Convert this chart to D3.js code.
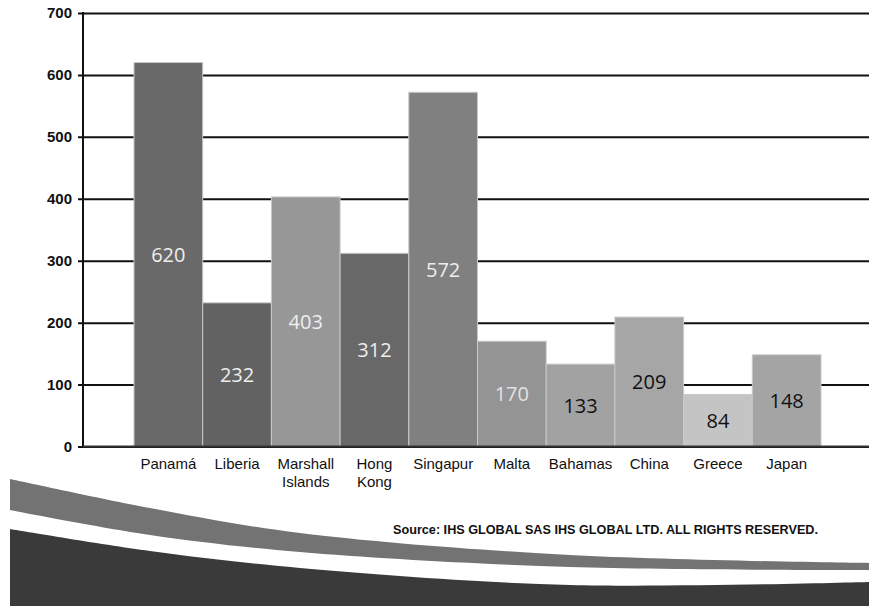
<!DOCTYPE html>
<html>
<head>
<meta charset="utf-8">
<script src="https://cdn.jsdelivr.net/npm/d3@7/dist/d3.min.js"></script>
<style>
  html, body { margin: 0; padding: 0; background: #fff; }
  svg { display: block; }
</style>
</head>
<body>
<svg id="chart" width="869" height="606"></svg>
<script>
// Registered fleet by flag (figures as labelled)
const flags = [["Panamá"], ["Liberia"], ["Marshall", "Islands"], ["Hong", "Kong"], ["Singapur"], ["Malta"], ["Bahamas"], ["China"], ["Greece"], ["Japan"]];
const fleet = [620, 232, 403, 312, 572, 170, 133, 209, 84, 148];
const barFills = ["#696969", "#626262", "#979797", "#686868", "#808080", "#949494", "#a2a2a2", "#a6a6a6", "#c4c4c4", "#a4a4a4"];
const labelInk = ["#eeeeee", "#eeeeee", "#eeeeee", "#eeeeee", "#eeeeee", "#e2e2e2", "#111111", "#111111", "#111111", "#111111"];
const yTicks = [0, 100, 200, 300, 400, 500, 600, 700];
const sourceNote = "Source: IHS GLOBAL SAS IHS GLOBAL LTD. ALL RIGHTS RESERVED.";

const svg = d3.select("#chart");
const plotLeft = 83, plotRight = 869, plotTop = 13, plotBottom = 446.5;

// Bars sit edge to edge, inset from the axis on the left and the frame edge on the right
const x = d3.scaleBand()
  .domain(d3.range(fleet.length))
  .range([plotLeft + 51, plotRight - 48])
  .padding(0);

const y = d3.scaleLinear().domain([0, 700]).range([plotBottom, plotTop]);

// Horizontal gridlines with left ticks
const yAxis = d3.axisLeft(y)
  .tickValues(yTicks)
  .tickSize(-(plotRight - plotLeft))
  .tickSizeOuter(0)
  .tickPadding(11)
  .tickFormat(d3.format("d"));

const gAxis = svg.append("g")
  .attr("transform", `translate(${plotLeft},0)`)
  .call(yAxis);
gAxis.select(".domain").remove();
gAxis.selectAll(".tick line")
  .attr("x1", -5)
  .attr("stroke", "#111")
  .attr("stroke-width", 2);
gAxis.selectAll(".tick text")
  .attr("font-family", "'Liberation Sans', Arial, sans-serif")
  .attr("font-weight", "bold")
  .attr("font-size", 15)
  .attr("fill", "#111");

// Bars
svg.append("g").selectAll("rect")
  .data(fleet)
  .join("rect")
  .attr("x", (d, i) => x(i))
  .attr("y", d => y(d))
  .attr("width", x.bandwidth())
  .attr("height", d => y(0) - y(d))
  .attr("fill", (d, i) => barFills[i])
  .attr("stroke", "#c9c9c9")
  .attr("stroke-width", 1);

// Axis frame: vertical axis and baseline
svg.append("line")
  .attr("x1", plotLeft).attr("x2", plotLeft)
  .attr("y1", y(700) - 1).attr("y2", y(0) + 1)
  .attr("stroke", "#111").attr("stroke-width", 2);
svg.append("line")
  .attr("x1", plotLeft).attr("x2", plotRight)
  .attr("y1", y(0)).attr("y2", y(0))
  .attr("stroke", "#333").attr("stroke-width", 2);

// Value labels centred in each bar
svg.append("g").selectAll("text")
  .data(fleet)
  .join("text")
  .attr("x", (d, i) => x(i) + x.bandwidth() / 2)
  .attr("y", d => (y(d) + y(0)) / 2)
  .attr("dy", "0.36em")
  .attr("text-anchor", "middle")
  .attr("font-family", "'Open Sans', 'Noto Sans', sans-serif")
  .attr("font-size", 20)
  .attr("fill", (d, i) => labelInk[i])
  .text(d => d);

// Category labels
const cat = svg.append("g").selectAll("text")
  .data(flags)
  .join("text")
  .attr("x", (d, i) => x(i) + x.bandwidth() / 2)
  .attr("y", 469)
  .attr("text-anchor", "middle")
  .attr("font-family", "'Liberation Sans', Arial, sans-serif")
  .attr("font-size", 15)
  .attr("fill", "#111");
cat.selectAll("tspan")
  .data(d => d)
  .join("tspan")
  .attr("x", function () { return d3.select(this.parentNode).attr("x"); })
  .attr("dy", (d, i) => i === 0 ? 0 : 18)
  .text(d => d);

// Decorative swooshes along the bottom
const curve = d3.line().curve(d3.curveCatmullRom.alpha(0.5));
const greyTop = [[10, 479], [150, 508], [300, 533], [570, 555], [869, 563]];
const greyBot = [[869, 570], [570, 567], [300, 552], [150, 535], [10, 510]];
svg.append("path")
  .attr("d", curve(greyTop) + "L" + curve(greyBot).slice(1) + "Z")
  .attr("fill", "#737373");

const darkTop = [[10, 529], [150, 551], [300, 568], [570, 585], [869, 582]];
svg.append("path")
  .attr("d", curve(darkTop) + "L869,606L10,606Z")
  .attr("fill", "#3a3a3a");

// Source note
svg.append("text")
  .attr("x", 393)
  .attr("y", 534)
  .attr("font-family", "'Liberation Sans', Arial, sans-serif")
  .attr("font-weight", "bold")
  .attr("font-size", 12)
  .attr("textLength", 425)
  .attr("lengthAdjust", "spacingAndGlyphs")
  .attr("fill", "#111")
  .text(sourceNote);
</script>
</body>
</html>
